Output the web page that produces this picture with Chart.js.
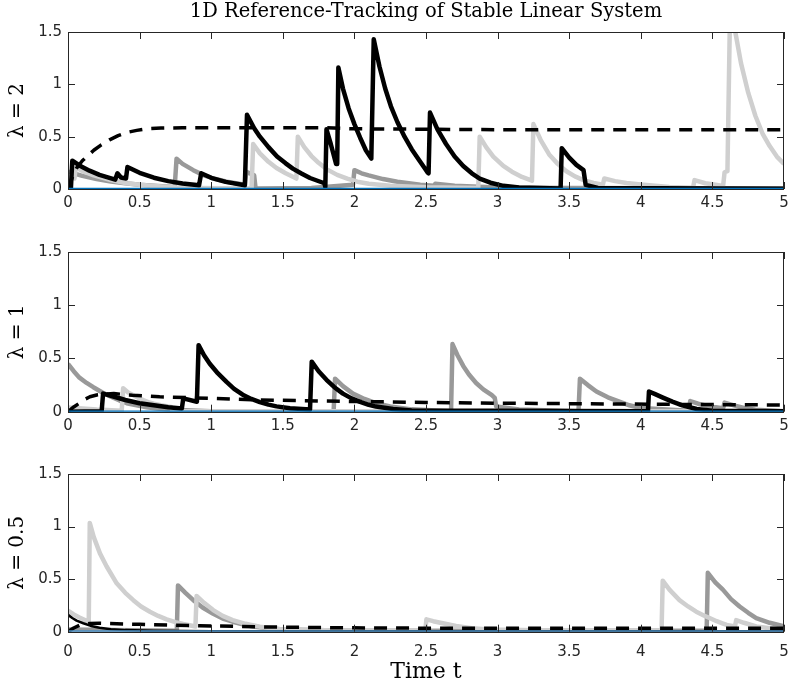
<!DOCTYPE html>
<html>
<head>
<meta charset="utf-8">
<script src="https://cdn.jsdelivr.net/npm/chart.js@4.4.1/dist/chart.umd.min.js"></script>
<style>
  body { margin: 0; background: #fff; }
  .panel { position: absolute; left: 0; width: 788px; }
</style>
</head>
<body>
<div class="panel" style="top:0;height:215px"><canvas id="c1"></canvas></div>
<div class="panel" style="top:215px;height:222px"><canvas id="c2"></canvas></div>
<div class="panel" style="top:437px;height:253px"><canvas id="c3"></canvas></div>
<script>
// ---- data: [t, value] ----
const titleText = '1D Reference-Tracking of Stable Linear System';
const panelLabels = ['\u03bb = 2', '\u03bb = 1', '\u03bb = 0.5'];
const xTicks = [0, 0.5, 1, 1.5, 2, 2.5, 3, 3.5, 4, 4.5, 5];
const yTicks = [0, 0.5, 1, 1.5];

// lambda = 2
const topBlack = [[0,0],[0.02,0],[0.03,0.27],[0.08,0.225],[0.15,0.175],[0.22,0.135],[0.33,0.09],[0.345,0.15],[0.37,0.11],[0.405,0.1],[0.415,0.21],[0.5,0.155],[0.6,0.108],[0.7,0.075],[0.8,0.053],[0.915,0.035],[0.93,0.15],[1.0,0.107],[1.1,0.068],[1.235,0.035],[1.25,0.71],[1.3,0.58],[1.34,0.5],[1.4,0.4],[1.46,0.31],[1.52,0.245],[1.57,0.195],[1.63,0.148],[1.69,0.105],[1.79,0.055],[1.797,0.02],[1.805,0.57],[1.835,0.43],[1.872,0.24],[1.88,0.24],[1.888,1.16],[1.92,0.96],[1.96,0.77],[2.0,0.62],[2.04,0.49],[2.08,0.37],[2.118,0.29],[2.135,1.43],[2.175,1.17],[2.215,0.96],[2.255,0.79],[2.3,0.64],[2.35,0.5],[2.4,0.38],[2.45,0.28],[2.49,0.2],[2.51,0.16],[2.518,0.15],[2.528,0.73],[2.58,0.57],[2.64,0.43],[2.7,0.31],[2.76,0.22],[2.82,0.15],[2.875,0.1],[2.95,0.06],[3.04,0.03],[3.15,0.015],[3.44,0.005],[3.448,0.39],[3.5,0.3],[3.55,0.23],[3.6,0.18],[3.615,0.04],[3.7,0.01],[5,0.003]];
const topGrey = [[0,0.165],[0.1,0.125],[0.2,0.095],[0.3,0.072],[0.4,0.055],[0.5,0.04],[0.6,0.03],[0.745,0.018],[0.758,0.29],[0.8,0.24],[0.875,0.18],[0.95,0.13],[1.03,0.095],[1.11,0.07],[1.235,0.04],[1.245,0.165],[1.3,0.13],[1.31,0.005],[1.7,0.01],[1.99,0.04],[2.0,0.18],[2.05,0.15],[2.1,0.13],[2.2,0.095],[2.3,0.07],[2.46,0.04],[2.555,0.03],[2.565,0.05],[2.7,0.03],[3.0,0.015],[3.5,0.01],[5,0.005]];
const topLight = [[0,0.12],[0.045,0.1],[0.055,0.21],[0.1,0.17],[0.18,0.13],[0.3,0.085],[0.41,0.055],[0.5,0.04],[0.6,0.028],[0.75,0.016],[0.9,0.01],[1.282,0.005],[1.293,0.43],[1.34,0.34],[1.4,0.26],[1.456,0.2],[1.52,0.15],[1.595,0.1],[1.605,0.5],[1.65,0.4],[1.7,0.315],[1.75,0.25],[1.805,0.19],[1.88,0.135],[1.95,0.1],[2.02,0.07],[2.1,0.05],[2.25,0.03],[2.5,0.017],[2.865,0.01],[2.875,0.5],[2.92,0.4],[2.97,0.31],[3.04,0.22],[3.1,0.165],[3.17,0.115],[3.24,0.08],[3.25,0.62],[3.3,0.47],[3.36,0.33],[3.42,0.24],[3.48,0.17],[3.54,0.12],[3.6,0.085],[3.67,0.058],[3.735,0.04],[3.745,0.1],[3.82,0.075],[3.9,0.058],[4.0,0.042],[4.1,0.03],[4.2,0.02],[4.365,0.012],[4.375,0.085],[4.45,0.055],[4.5,0.045],[4.575,0.03],[4.585,0.16],[4.605,0.17],[4.625,1.85],[4.66,1.5],[4.7,1.2],[4.75,0.92],[4.8,0.7],[4.85,0.53],[4.9,0.41],[4.95,0.31],[5,0.24]];
const topDash = [[0,0],[0.03,0.11],[0.06,0.2],[0.1,0.27],[0.14,0.32],[0.18,0.37],[0.23,0.42],[0.29,0.47],[0.35,0.51],[0.41,0.54],[0.48,0.56],[0.55,0.575],[0.65,0.582],[0.8,0.585],[1.8,0.585],[2.0,0.575],[3,0.567],[5,0.565]];

// lambda = 1
const midBlack = [[0,0],[0.235,0.005],[0.245,0.17],[0.3,0.15],[0.4,0.11],[0.5,0.08],[0.6,0.06],[0.7,0.042],[0.795,0.03],[0.805,0.125],[0.9,0.094],[0.912,0.625],[0.95,0.53],[0.99,0.45],[1.04,0.37],[1.107,0.28],[1.16,0.215],[1.22,0.16],[1.28,0.12],[1.34,0.09],[1.4,0.066],[1.456,0.05],[1.55,0.032],[1.69,0.02],[1.702,0.47],[1.75,0.38],[1.805,0.3],[1.86,0.23],[1.92,0.17],[1.98,0.125],[2.04,0.092],[2.1,0.065],[2.15,0.048],[2.27,0.025],[2.4,0.012],[4.05,0.005],[4.057,0.19],[4.1,0.165],[4.15,0.135],[4.22,0.095],[4.29,0.06],[4.39,0.025],[4.5,0.01],[5,0.005]];
const midGrey = [[0,0.45],[0.04,0.38],[0.08,0.32],[0.13,0.27],[0.177,0.23],[0.24,0.18],[0.3,0.14],[0.36,0.105],[0.41,0.08],[0.48,0.06],[0.55,0.042],[0.62,0.03],[0.69,0.02],[1.0,0.005],[1.855,0.005],[1.865,0.31],[1.92,0.24],[1.99,0.17],[2.07,0.12],[2.15,0.08],[2.25,0.05],[2.4,0.022],[2.675,0.005],[2.685,0.635],[2.72,0.53],[2.76,0.43],[2.8,0.35],[2.85,0.27],[2.9,0.21],[2.96,0.155],[2.98,0.13],[2.99,0.05],[3.15,0.02],[3.565,0.005],[3.575,0.31],[3.63,0.25],[3.69,0.19],[3.77,0.135],[3.85,0.094],[3.92,0.06],[4.0,0.035],[4.335,0.01],[4.345,0.1],[4.4,0.075],[4.45,0.058],[4.51,0.045],[4.575,0.033],[4.585,0.085],[4.65,0.06],[4.72,0.035],[4.8,0.018],[5,0.005]];
const midLight = [[0,0.04],[0.2,0.02],[0.375,0.01],[0.385,0.22],[0.42,0.18],[0.45,0.16],[0.49,0.13],[0.525,0.11],[0.56,0.09],[0.6,0.075],[0.65,0.06],[0.72,0.045],[0.73,0.005],[5,0.005]];
const midDash = [[0,0],[0.04,0.045],[0.08,0.08],[0.115,0.115],[0.153,0.14],[0.2,0.157],[0.25,0.165],[0.32,0.17],[0.45,0.155],[0.64,0.14],[1.0,0.125],[1.34,0.11],[2.0,0.096],[2.5,0.087],[3.0,0.08],[3.85,0.072],[5,0.063]];

// lambda = 0.5
const botBlack = [[0,0.16],[0.03,0.13],[0.06,0.105],[0.107,0.08],[0.16,0.055],[0.22,0.037],[0.3,0.024],[0.4,0.015],[0.6,0.008],[1.0,0.005],[5,0.005]];
const botGrey = [[0,0.02],[0.76,0.01],[0.768,0.44],[0.82,0.37],[0.875,0.3],[0.94,0.23],[1.014,0.17],[1.08,0.125],[1.15,0.095],[1.22,0.07],[1.29,0.05],[1.4,0.032],[1.5,0.022],[2.0,0.01],[4.46,0.01],[4.468,0.56],[4.52,0.47],[4.573,0.4],[4.63,0.31],[4.69,0.24],[4.75,0.18],[4.806,0.13],[4.9,0.085],[5,0.05]];
const botLight = [[0,0.2],[0.04,0.165],[0.08,0.135],[0.145,0.095],[0.152,1.035],[0.18,0.9],[0.223,0.745],[0.27,0.62],[0.34,0.46],[0.4,0.37],[0.456,0.3],[0.51,0.24],[0.572,0.19],[0.63,0.15],[0.689,0.118],[0.75,0.09],[0.805,0.073],[0.89,0.05],[0.898,0.34],[0.95,0.275],[1.014,0.206],[1.08,0.15],[1.15,0.11],[1.24,0.075],[1.34,0.048],[1.42,0.032],[1.5,0.022],[2.0,0.01],[2.495,0.01],[2.503,0.118],[2.55,0.1],[2.6,0.085],[2.71,0.054],[2.82,0.033],[2.94,0.02],[3.5,0.01],[4.145,0.01],[4.153,0.485],[4.2,0.4],[4.27,0.3],[4.33,0.24],[4.387,0.19],[4.44,0.155],[4.48,0.13],[4.53,0.1],[4.57,0.08],[4.6,0.065],[4.658,0.05],[4.666,0.11],[4.72,0.085],[4.806,0.05],[4.9,0.033],[5,0.022]];
const botDash = [[0,0],[0.04,0.035],[0.084,0.064],[0.15,0.078],[0.22,0.08],[0.5,0.07],[0.92,0.057],[1.4,0.045],[1.85,0.038],[2.4,0.034],[5,0.032]];

const zeroLine = [[0,0.004],[5,0.004]];

// ---- drawing ----
const BLACK = '#000000', GREY = '#999999', LIGHT = '#cfcfcf', BLUE = '#0072bd';
const AXIS = '#262626';

function line(points, color, width, dash) {
  return {
    data: points.map(p => ({ x: p[0], y: p[1] })),
    borderColor: color,
    borderWidth: width,
    borderDash: dash || [],
    pointRadius: 0,
    fill: false,
    tension: 0,
    borderJoinStyle: 'round'
  };
}

// MATLAB style box with inward ticks on all four sides
const boxPlugin = {
  id: 'boxTicks',
  afterDatasetsDraw(chart) {
    const { ctx, chartArea: a, scales: { x, y } } = chart;
    ctx.save();
    ctx.strokeStyle = AXIS;
    ctx.lineWidth = 1;
    ctx.beginPath();
    xTicks.forEach(v => {
      const px = Math.round(x.getPixelForValue(v)) + 0.5;
      ctx.moveTo(px, a.bottom); ctx.lineTo(px, a.bottom - 7);
      ctx.moveTo(px, a.top); ctx.lineTo(px, a.top + 7);
    });
    yTicks.forEach(v => {
      const py = Math.round(y.getPixelForValue(v)) + 0.5;
      ctx.moveTo(a.left, py); ctx.lineTo(a.left + 7, py);
      ctx.moveTo(a.right, py); ctx.lineTo(a.right - 7, py);
    });
    ctx.stroke();
    ctx.strokeRect(Math.round(a.left) + 0.5, Math.round(a.top) + 0.5,
                   Math.round(a.width) - 1, Math.round(a.height));
    ctx.restore();
  }
};

function makePanel(id, label, sets, cfg) {
  const ctx = document.getElementById(id).getContext('2d');
  return new Chart(ctx, {
    type: 'line',
    data: { datasets: sets },
    options: {
      responsive: true,
      maintainAspectRatio: false,
      animation: false,
      events: [],
      layout: { padding: { top: cfg.padTop, right: 4, left: 0, bottom: 0 } },
      plugins: {
        legend: { display: false },
        tooltip: { enabled: false },
        title: {
          display: !!cfg.title,
          text: cfg.title || '',
          fullSize: false,
          color: '#000',
          font: { family: 'DejaVu Serif', size: 19.5, weight: 'normal', lineHeight: 1.2 },
          padding: { top: 0, bottom: 8.6 }
        }
      },
      scales: {
        x: {
          type: 'linear', min: 0, max: 5,
          afterBuildTicks: s => { s.ticks = xTicks.map(v => ({ value: v })); },
          afterFit: s => { s.height = cfg.xHeight; s.paddingLeft = 0; s.paddingRight = 0; },
          grid: { display: false, drawTicks: false },
          border: { display: false },
          ticks: { color: AXIS, padding: cfg.xPad, maxRotation: 0, autoSkip: false,
                   callback: v => String(v),
                   font: { family: 'DejaVu Sans', size: 15 } },
          title: {
            display: !!cfg.xTitle, text: cfg.xTitle || '', color: '#000',
            font: { family: 'DejaVu Serif', size: 22, lineHeight: 1 },
            padding: { top: 0, bottom: 7 }
          }
        },
        y: {
          type: 'linear', min: 0, max: 1.5,
          afterBuildTicks: s => { s.ticks = yTicks.map(v => ({ value: v })); },
          afterFit: s => { s.width = 68; s.paddingTop = 0; s.paddingBottom = 0; },
          grid: { display: false, drawTicks: false },
          border: { display: false },
          ticks: { color: AXIS, padding: 6, callback: v => String(v),
                   font: { family: 'DejaVu Sans', size: 15 } },
          title: {
            display: true, text: label, color: '#000',
            font: { family: 'DejaVu Serif', size: 20, lineHeight: 1 },
            padding: { top: 7.5, bottom: 0 }
          }
        }
      }
    },
    plugins: [boxPlugin]
  });
}

makePanel('c1', panelLabels[0], [
  line(zeroLine, BLUE, 1.5),
  line(topDash, BLACK, 3.5, [13, 9]),
  line(topBlack, BLACK, 4.5),
  line(topLight, LIGHT, 4.5),
  line(topGrey, GREY, 4.5)
], { title: titleText, padTop: 0, xHeight: 26, xPad: 5 });

makePanel('c2', panelLabels[1], [
  line(zeroLine, BLUE, 1.5),
  line(midDash, BLACK, 3.5, [13, 9]),
  line(midBlack, BLACK, 4.5),
  line(midLight, LIGHT, 4.5),
  line(midGrey, GREY, 4.5)
], { padTop: 37, xHeight: 25.3, xPad: 5 });

makePanel('c3', panelLabels[2], [
  line(zeroLine, '#4a8fc4', 2),
  line(botDash, BLACK, 3.5, [13, 9]),
  line(botBlack, BLACK, 2.5),
  line(botLight, LIGHT, 4.5),
  line(botGrey, GREY, 4.5)
], { padTop: 37, xHeight: 58.3, xPad: 11, xTitle: 'Time t' });
</script>
</body>
</html>
